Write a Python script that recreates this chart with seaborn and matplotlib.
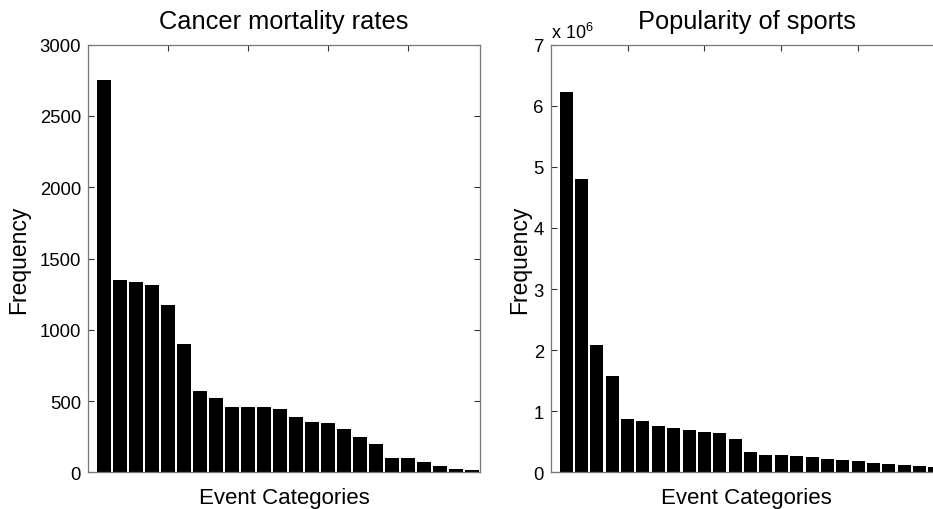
import numpy as np
import pandas as pd
import matplotlib
matplotlib.use("Agg")
import matplotlib.pyplot as plt
import seaborn as sns

# Event-category frequencies, sorted in decreasing order
cancer_counts = [2752, 1349, 1333, 1312, 1174, 898, 568, 519, 461, 458, 456, 444,
                 390, 355, 346, 302, 248, 201, 100, 98, 75, 42, 26, 14]
sports_counts = [6.23e6, 4.80e6, 2.08e6, 1.58e6, 0.87e6, 0.84e6, 0.75e6, 0.73e6,
                 0.69e6, 0.66e6, 0.64e6, 0.545e6, 0.335e6, 0.28e6, 0.28e6, 0.275e6,
                 0.245e6, 0.22e6, 0.205e6, 0.19e6, 0.16e6, 0.128e6, 0.126e6, 0.105e6,
                 0.088e6]

titles = ["Cancer mortality rates", "Popularity of sports"]
x_label = "Event Categories"
y_label = "Frequency"
cancer_yticks = [0, 500, 1000, 1500, 2000, 2500, 3000]
sports_yticks = [0, 1, 2, 3, 4, 5, 6, 7]

sns.set_theme(style="white")
plt.rcParams["font.family"] = ["Liberation Sans", "DejaVu Sans"]
plt.rcParams["mathtext.fontset"] = "custom"
plt.rcParams["mathtext.rm"] = "Liberation Sans"
plt.rcParams["mathtext.it"] = "Liberation Sans"

W, H = 933, 510
fig = plt.figure(figsize=(W / 100, H / 100), dpi=100)
fig.patch.set_facecolor("white")

ax_w = 392 / W
ax_h = 427.6 / H
ax_b = (H - 473.3) / H
ax1 = fig.add_axes([88 / W, ax_b, ax_w, ax_h])
ax2 = fig.add_axes([550.7 / W, ax_b, ax_w, ax_h])


def draw_panel(ax, counts, yticks, ymax, scale, title):
    df = pd.DataFrame({"category": np.arange(1, len(counts) + 1),
                       "count": np.asarray(counts) / scale})
    sns.barplot(data=df, x="category", y="count", native_scale=True,
                color="black", width=0.85, saturation=1, ax=ax,
                edgecolor="none", linewidth=0, errorbar=None)
    ax.set_xlim(0, len(counts) + 0.5)
    ax.set_ylim(0, ymax)
    ax.set_xticks([5, 10, 15, 20])
    ax.set_xticklabels([])
    ax.set_yticks(yticks)
    ax.set_yticklabels([str(t) for t in yticks], fontsize=13.3)
    ax.tick_params(axis="both", direction="in", length=4, width=0.8,
                   color="#333333", top=True, right=True, bottom=True, left=True,
                   pad=5, labelcolor="black")
    for sp in ax.spines.values():
        sp.set_visible(True)
        sp.set_color("#777777")
        sp.set_linewidth(0.9)
    ax.set_xlabel(x_label, fontsize=16, color="black")
    ax.set_ylabel(y_label, fontsize=16.5, color="black")
    ax.xaxis.set_label_coords(0.5, -0.034)
    ax.set_title(title, fontsize=18.3, color="black", y=1.038, pad=0,
                 va="baseline")
    ax.grid(False)
    ax.set_facecolor("white")


draw_panel(ax1, cancer_counts, cancer_yticks, 3000, 1, titles[0])
draw_panel(ax2, sports_counts, sports_yticks, 7, 1e6, titles[1])

ax1.yaxis.set_label_coords(-0.148, 0.5)
ax2.yaxis.set_label_coords(-0.05, 0.5)

# Axis multiplier for the sports panel
ax2.text(0.0, 1.016, r"x 10$^{6}$", transform=ax2.transAxes, fontsize=13,
         ha="left", va="baseline", color="black")

fig.savefig("out.png", dpi=100, facecolor="white")
